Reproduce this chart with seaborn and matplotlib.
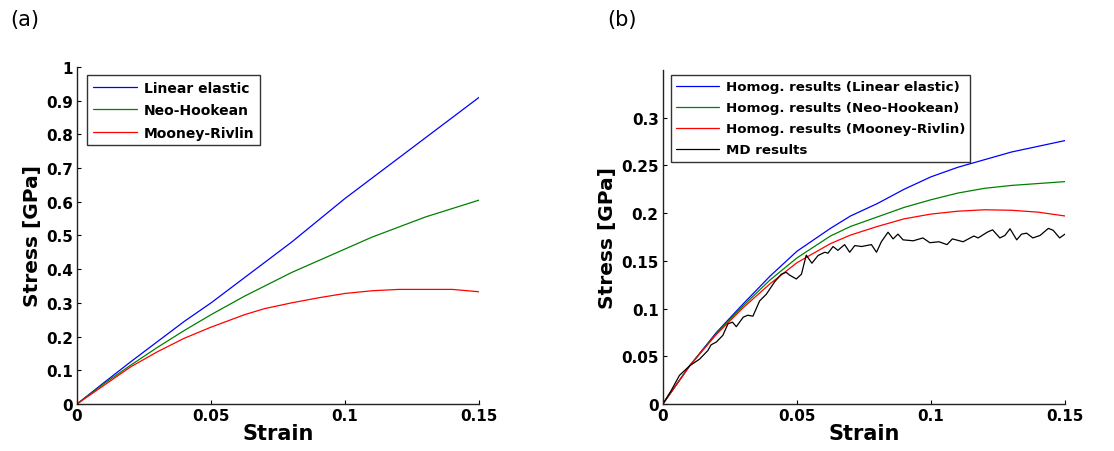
import pandas as pd
import numpy as np
import matplotlib
matplotlib.use('Agg')
import matplotlib.pyplot as plt
import seaborn as sns

# (a) malzeme modelleri
strain_a = [0, 0.01, 0.02, 0.03, 0.04, 0.05, 0.0625, 0.07, 0.08, 0.09, 0.1, 0.11, 0.12, 0.13, 0.14, 0.15]
linear_a = [0, 0.063, 0.125, 0.185, 0.245, 0.30, 0.375, 0.42, 0.48, 0.545, 0.61, 0.67, 0.73, 0.79, 0.85, 0.91]
neo_a = [0, 0.06, 0.115, 0.168, 0.218, 0.265, 0.32, 0.35, 0.39, 0.425, 0.46, 0.495, 0.525, 0.555, 0.58, 0.605]
mooney_a = [0, 0.055, 0.11, 0.155, 0.195, 0.228, 0.265, 0.283, 0.300, 0.315, 0.328, 0.336, 0.34, 0.34, 0.34, 0.333]

# (b) homojenizasyon + MD
strain_b = [0, 0.005, 0.01, 0.02, 0.03, 0.04, 0.05, 0.0625, 0.07, 0.08, 0.09, 0.1, 0.11, 0.12, 0.13, 0.14, 0.15]
linear_b = [0, 0.02, 0.04, 0.075, 0.105, 0.134, 0.16, 0.184, 0.197, 0.21, 0.225, 0.238, 0.248, 0.256, 0.264, 0.270, 0.276]
neo_b = [0, 0.02, 0.04, 0.074, 0.103, 0.130, 0.153, 0.176, 0.186, 0.196, 0.206, 0.214, 0.221, 0.226, 0.229, 0.231, 0.233]
mooney_b = [0, 0.02, 0.04, 0.073, 0.101, 0.126, 0.148, 0.168, 0.177, 0.186, 0.194, 0.199, 0.202, 0.2035, 0.203, 0.201, 0.197]

md_strain = [0, 0.0031, 0.0062, 0.010, 0.0137, 0.0168, 0.018, 0.020, 0.0224, 0.0243, 0.026, 0.0274,
             0.030, 0.0317, 0.0336, 0.0361, 0.0386, 0.0417, 0.0442, 0.046, 0.0473, 0.0498, 0.0517,
             0.0535, 0.0556, 0.0579, 0.0604, 0.0616, 0.0635, 0.0653, 0.0678, 0.0697, 0.0716, 0.0741,
             0.0778, 0.0797, 0.0815, 0.084, 0.0859, 0.0877, 0.0896, 0.0934, 0.097, 0.0996, 0.103,
             0.106, 0.108, 0.112, 0.116, 0.1176, 0.121, 0.123, 0.1257, 0.1276, 0.1295, 0.132, 0.1338,
             0.1357, 0.138, 0.1407, 0.1438, 0.1456, 0.148, 0.150]
md_stress = [0, 0.014, 0.030, 0.040, 0.047, 0.056, 0.062, 0.065, 0.072, 0.084, 0.0857, 0.081,
             0.091, 0.093, 0.092, 0.108, 0.115, 0.128, 0.136, 0.138, 0.135, 0.131, 0.136,
             0.156, 0.1475, 0.1556, 0.159, 0.158, 0.165, 0.161, 0.167, 0.159, 0.166, 0.165,
             0.167, 0.159, 0.170, 0.180, 0.173, 0.178, 0.172, 0.171, 0.174, 0.169, 0.170,
             0.167, 0.173, 0.170, 0.176, 0.174, 0.180, 0.1825, 0.174, 0.1766, 0.1836, 0.172, 0.178,
             0.179, 0.174, 0.1766, 0.184, 0.182, 0.174, 0.178]

labels_a = ['Linear elastic', 'Neo-Hookean', 'Mooney-Rivlin']
labels_b = ['Homog. results (Linear elastic)', 'Homog. results (Neo-Hookean)',
            'Homog. results (Mooney-Rivlin)', 'MD results']
colors = ['#0000ff', '#008000', '#ff0000', '#000000']

sns.set_theme(style="ticks")
plt.rcParams['font.family'] = ['DejaVu Sans']
plt.rcParams['text.color'] = 'black'
plt.rcParams['axes.labelcolor'] = 'black'
plt.rcParams['xtick.color'] = 'black'
plt.rcParams['ytick.color'] = 'black'

fig = plt.figure(figsize=(11.14, 4.52), dpi=100)
ax1 = fig.add_axes([0.0691, 0.104, 0.361, 0.7456])
ax2 = fig.add_axes([0.595, 0.104, 0.361, 0.739])


def style_axes(ax, xticks, yticks, ylim):
    ax.set_xlim(0, 0.15)
    ax.set_ylim(*ylim)
    ax.set_xticks(xticks)
    ax.set_xticklabels([f'{t:g}' for t in xticks])
    ax.set_yticks(yticks)
    ax.set_yticklabels([f'{t:g}' for t in yticks])
    ax.tick_params(direction='in', length=3, width=0.8, colors='black', labelsize=11, pad=3)
    for lab in ax.get_xticklabels() + ax.get_yticklabels():
        lab.set_fontweight('bold')
    sns.despine(ax=ax)
    for s in ['left', 'bottom']:
        ax.spines[s].set_color('#222222')
        ax.spines[s].set_linewidth(1.0)
    ax.set_xlabel('Strain', fontsize=15, fontweight='bold', labelpad=0, color='black')
    ax.set_ylabel('Stress [GPa]', fontsize=14.5, fontweight='bold', labelpad=3, color='black')


# GRAFİK (a)
for y, lab, c in zip([linear_a, neo_a, mooney_a], labels_a, colors):
    sns.lineplot(x=strain_a, y=y, ax=ax1, color=c, label=lab, linewidth=0.9)
style_axes(ax1, [0, 0.05, 0.1, 0.15], np.round(np.arange(0, 1.01, 0.1), 1), (0, 1))
leg1 = ax1.legend(loc='upper left', bbox_to_anchor=(0.025, 0.975), frameon=True, fancybox=False,
                  edgecolor='black', prop={'weight': 'bold', 'size': 10}, handlelength=3.2,
                  borderpad=0.4, labelspacing=0.6, handletextpad=0.5, borderaxespad=0)
leg1.get_frame().set_linewidth(1.0)

# GRAFİK (b)
for y, lab, c in zip([linear_b, neo_b, mooney_b], labels_b[:3], colors[:3]):
    sns.lineplot(x=strain_b, y=y, ax=ax2, color=c, label=lab, linewidth=0.9)
sns.lineplot(x=md_strain, y=md_stress, ax=ax2, color=colors[3], label=labels_b[3], linewidth=0.9)
style_axes(ax2, [0, 0.05, 0.1, 0.15], [0, 0.05, 0.1, 0.15, 0.2, 0.25, 0.3], (0, 0.35))
leg2 = ax2.legend(loc='upper left', bbox_to_anchor=(0.02, 0.985), frameon=True, fancybox=False,
                  edgecolor='black', prop={'weight': 'bold', 'size': 9.6}, handlelength=3.2,
                  borderpad=0.4, labelspacing=0.6, handletextpad=0.5, borderaxespad=0)
leg2.get_frame().set_linewidth(1.0)

fig.text(0.009, 0.955, '(a)', fontsize=15, va='center', ha='left')
fig.text(0.545, 0.955, '(b)', fontsize=15, va='center', ha='left')

plt.savefig('out.png', dpi=100, facecolor='white')
